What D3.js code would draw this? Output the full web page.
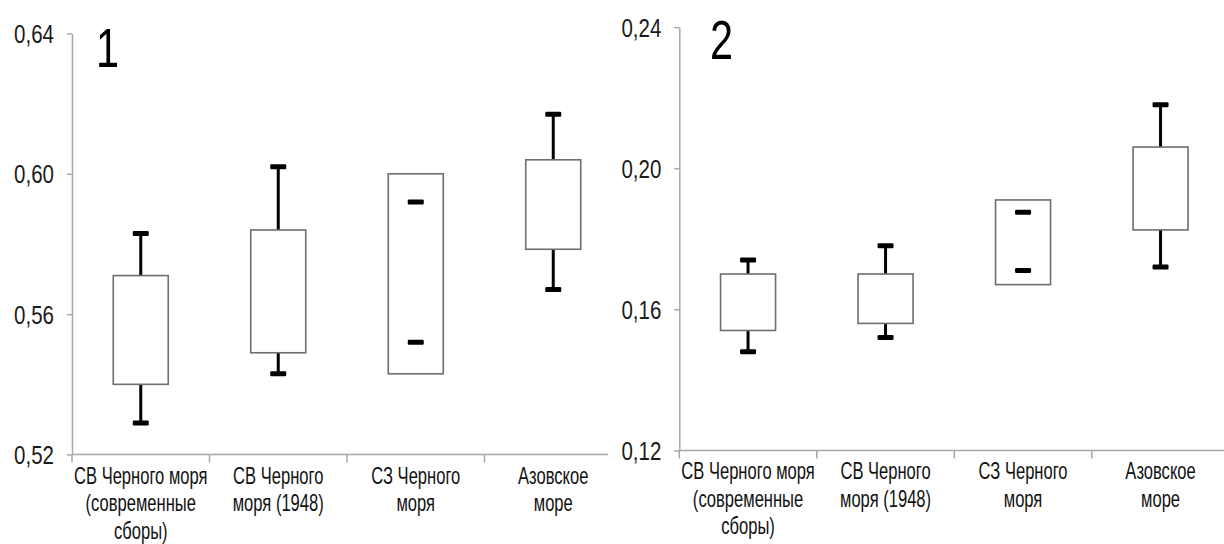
<!DOCTYPE html>
<html>
<head>
<meta charset="utf-8">
<script src="https://cdn.jsdelivr.net/npm/d3@7"></script>
<style>
  html, body { margin: 0; padding: 0; background: #fff; }
  svg { display: block; }
</style>
</head>
<body>
<svg id="chart" width="1224" height="544"></svg>
<script>
// Regions (shared by both panels); each label is split into its printed lines
const categories = ["cv_modern", "cv_1948", "sz", "azov"];
const categoryLines = [
  ["СВ Черного моря", "(современные", "сборы)"],
  ["СВ Черного", "моря (1948)"],
  ["СЗ Черного", "моря"],
  ["Азовское", "море"]
];

// Panel 1: whisker low, box low, box high, whisker high
const p1WhiskerLow  = [0.529, 0.543, 0.552, 0.567];
const p1BoxLow      = [0.540, 0.549, 0.543, 0.5785];
const p1BoxHigh     = [0.571, 0.584, 0.600, 0.604];
const p1WhiskerHigh = [0.583, 0.602, 0.592, 0.617];
const p1Ticks = [0.52, 0.56, 0.60, 0.64];
const p1Domain = [0.52, 0.64];

// Panel 2
const p2WhiskerLow  = [0.148, 0.152, 0.171, 0.172];
const p2BoxLow      = [0.154, 0.156, 0.167, 0.1825];
const p2BoxHigh     = [0.170, 0.170, 0.191, 0.206];
const p2WhiskerHigh = [0.174, 0.178, 0.1875, 0.218];
const p2Ticks = [0.12, 0.16, 0.20, 0.24];
const p2Domain = [0.12, 0.24];

const panelLabels = ["1", "2"];

const svg = d3.select("#chart");
const ru = d3.formatLocale({ decimal: ",", thousands: " ", grouping: [3], currency: ["", ""] });
const fmt = ru.format(".2f");

const FONT = "'Liberation Sans', Arial, sans-serif";
const NARROW = 0.82;   // horizontal squeeze for the numeric labels
const COND = 0.72;     // horizontal squeeze for the category labels

function drawPanel(cfg) {
  const g = svg.append("g");
  const x = d3.scaleBand().domain(categories).range([cfg.left, cfg.left + 550]).paddingInner(0).paddingOuter(0);
  const y = d3.scaleLinear().domain(cfg.domain).range([cfg.bottom, cfg.top]);

  // y axis
  const yAxis = g.append("g")
    .attr("transform", `translate(${cfg.left},0)`)
    .call(d3.axisLeft(y).tickValues(cfg.ticks).tickFormat(fmt).tickSize(5).tickSizeOuter(0).tickPadding(13));
  yAxis.select(".domain").attr("stroke", "#a8a8a8").attr("stroke-width", 1.5);
  yAxis.selectAll(".tick line").attr("stroke", "#a8a8a8").attr("stroke-width", 1.5);
  yAxis.selectAll(".tick text")
    .attr("font-family", FONT)
    .attr("font-size", 25)
    .attr("fill", "#1a1a1a")
    .attr("dy", "0.36em")
    .each(function () {
      const t = d3.select(this);
      const xx = +t.attr("x");
      t.attr("x", xx / NARROW).attr("transform", `scale(${NARROW},1)`);
    });

  // x axis line and category boundary ticks
  g.append("line")
    .attr("x1", cfg.left).attr("x2", cfg.axisEnd)
    .attr("y1", cfg.bottom).attr("y2", cfg.bottom)
    .attr("stroke", "#a8a8a8").attr("stroke-width", 1.5);
  g.selectAll(".bnd").data(categories).join("line")
    .attr("x1", d => x(d)).attr("x2", d => x(d))
    .attr("y1", cfg.bottom).attr("y2", cfg.bottom + 8)
    .attr("stroke", "#a8a8a8").attr("stroke-width", 1.5);

  // category labels, one text element per printed line
  categories.forEach((c, i) => {
    const cx = x(c) + x.bandwidth() / 2;
    categoryLines[i].forEach((ln, k) => {
      g.append("text")
        .attr("font-family", FONT)
        .attr("font-size", 23)
        .attr("fill", "#111")
        .attr("text-anchor", "middle")
        .attr("transform", `translate(${cx},${cfg.bottom + 29 + k * 27.5}) scale(${COND},1)`)
        .text(ln);
    });
  });

  const rows = categories.map((c, i) => ({
    c, wl: cfg.wl[i], bl: cfg.bl[i], bh: cfg.bh[i], wh: cfg.wh[i]
  }));
  const bw = x.bandwidth() * 0.4;
  const capW = 16, capH = 5;
  const cxOf = d => x(d.c) + x.bandwidth() / 2;

  // whisker stems
  g.selectAll(".stemHi").data(rows).join("line")
    .attr("x1", cxOf).attr("x2", cxOf)
    .attr("y1", d => y(d.wh)).attr("y2", d => y(d.bh))
    .attr("stroke", "#000").attr("stroke-width", 3);
  g.selectAll(".stemLo").data(rows).join("line")
    .attr("x1", cxOf).attr("x2", cxOf)
    .attr("y1", d => y(d.bl)).attr("y2", d => y(d.wl))
    .attr("stroke", "#000").attr("stroke-width", 3);

  // boxes
  g.selectAll(".box").data(rows).join("rect")
    .attr("x", d => cxOf(d) - bw / 2)
    .attr("width", bw)
    .attr("y", d => y(d.bh))
    .attr("height", d => y(d.bl) - y(d.bh))
    .attr("fill", "#fff")
    .attr("stroke", "#6e6e6e")
    .attr("stroke-width", 1.6);

  // whisker caps
  ["wh", "wl"].forEach(k => {
    g.selectAll(".cap-" + k).data(rows).join("rect")
      .attr("x", d => cxOf(d) - capW / 2)
      .attr("y", d => y(d[k]) - capH / 2)
      .attr("width", capW).attr("height", capH)
      .attr("rx", 1.2)
      .attr("fill", "#000");
  });

  // panel number
  g.append("text")
    .attr("font-family", FONT)
    .attr("font-size", 56)
    .attr("fill", "#000")
    .attr("transform", `translate(${cfg.numX},${cfg.numY}) scale(0.74,1)`)
    .text(cfg.num);
}

drawPanel({
  left: 72, top: 33.5, bottom: 454.5, axisEnd: 608,
  domain: p1Domain, ticks: p1Ticks,
  wl: p1WhiskerLow, bl: p1BoxLow, bh: p1BoxHigh, wh: p1WhiskerHigh,
  num: panelLabels[0], numX: 96, numY: 66.5
});
drawPanel({
  left: 679.3, top: 27.1, bottom: 450.4, axisEnd: 1224,
  domain: p2Domain, ticks: p2Ticks,
  wl: p2WhiskerLow, bl: p2BoxLow, bh: p2BoxHigh, wh: p2WhiskerHigh,
  num: panelLabels[1], numX: 710, numY: 59.3
});
</script>
</body>
</html>
